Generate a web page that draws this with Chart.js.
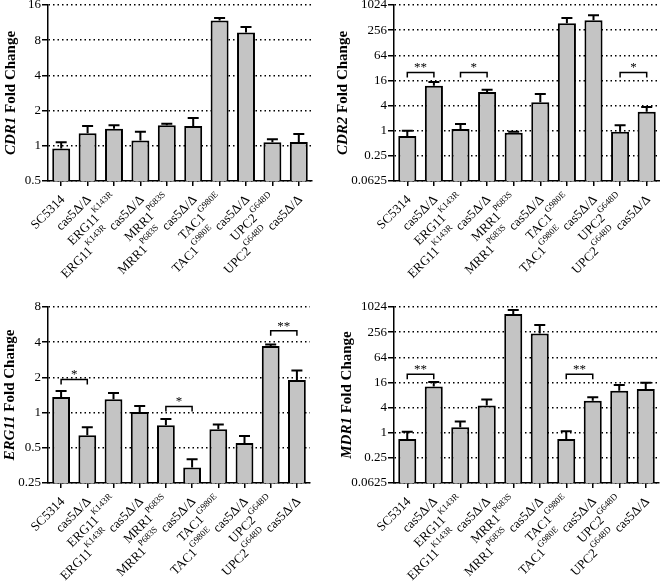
<!DOCTYPE html>
<html>
<head>
<meta charset="utf-8">
<script src="https://cdn.jsdelivr.net/npm/chart.js@4"></script>
<style>
  body { margin: 0; background: #fff; }
  #wrap { position: relative; width: 660px; height: 584px; overflow: hidden; }
  canvas { position: absolute; }
</style>
</head>
<body>
<div id="wrap">
  <canvas id="cdr1" width="330" height="302" style="left:0px;top:-10px"></canvas>
  <canvas id="cdr2" width="330" height="302" style="left:330px;top:-10px"></canvas>
  <canvas id="erg11" width="330" height="292" style="left:0px;top:292px"></canvas>
  <canvas id="mdr1" width="330" height="292" style="left:330px;top:292px"></canvas>
</div>
<script>
// ---- data ----
// '^' marks the start of a superscript (runs until the next space)
const categories = ['SC5314', 'cas5Δ/Δ', 'ERG11^K143R', 'ERG11^K143R cas5Δ/Δ', 'MRR1^P683S',
  'MRR1^P683S cas5Δ/Δ', 'TAC1^G980E', 'TAC1^G980E cas5Δ/Δ', 'UPC2^G648D', 'UPC2^G648D cas5Δ/Δ'];

const cdr1Mean = [0.95, 1.28, 1.40, 1.11, 1.50, 1.48, 11.8, 9.3, 1.07, 1.08];
const cdr1Sd = [0.12, 0.20, 0.10, 0.21, 0.04, 0.25, 0.6, 1.1, 0.07, 0.18];
const cdr1Ticks = [0.5, 1, 2, 4, 8, 16];
const cdr1TickLabels = ['0.5', '1', '2', '4', '8', '16'];

const cdr2Mean = [0.75, 11.9, 1.1, 8.4, 0.9, 4.8, 375, 442, 0.95, 2.83];
const cdr2Sd = [0.25, 2.7, 0.34, 1.2, 0.05, 2.8, 128, 140, 0.41, 0.87];
const cdr2Sig = [[0, 1, '**', 24.8], [2, 3, '*', 24.8], [8, 9, '*', 24.8]];

const erg11Mean = [1.36, 0.64, 1.30, 1.01, 0.78, 0.34, 0.72, 0.55, 3.72, 1.90];
const erg11Sd = [0.17, 0.11, 0.17, 0.13, 0.10, 0.06, 0.07, 0.08, 0.10, 0.39];
const erg11Sig = [[0, 1, '*', 1.92], [4, 5, '*', 1.13], [8, 9, '**', 5.0]];
const erg11Ticks = [0.25, 0.5, 1, 2, 4, 8];
const erg11TickLabels = ['0.25', '0.5', '1', '2', '4', '8'];

const mdr1Mean = [0.71, 12.8, 1.36, 4.47, 699, 237, 0.71, 5.86, 10.1, 11.1];
const mdr1Sd = [0.34, 3.5, 0.50, 1.8, 169, 145, 0.38, 1.18, 3.7, 4.6];
const mdr1Sig = [[0, 1, '**', 25.2], [6, 7, '**', 25.2]];

const wideTicks = [0.0625, 0.25, 1, 4, 16, 64, 256, 1024];
const wideTickLabels = ['0.0625', '0.25', '1', '4', '16', '64', '256', '1024'];

// ---- layout per panel ----
const panels = {
  cdr1:  { gene: 'CDR1',  mean: cdr1Mean,  sd: cdr1Sd,  sig: [],       ticks: cdr1Ticks,  labels: cdr1TickLabels,  yWidth: 48, padRight: 18, xHeight: 111, titleX: 11 },
  cdr2:  { gene: 'CDR2',  mean: cdr2Mean,  sd: cdr2Sd,  sig: cdr2Sig,  ticks: wideTicks,  labels: wideTickLabels,  yWidth: 64, padRight: 0,  xHeight: 111, titleX: 13 },
  erg11: { gene: 'ERG11', mean: erg11Mean, sd: erg11Sd, sig: erg11Sig, ticks: erg11Ticks, labels: erg11TickLabels, yWidth: 48, padRight: 20, xHeight: 101, titleX: 10 },
  mdr1:  { gene: 'MDR1',  mean: mdr1Mean,  sd: mdr1Sd,  sig: mdr1Sig,  ticks: wideTicks,  labels: wideTickLabels,  yWidth: 64, padRight: 1,  xHeight: 101, titleX: 17 }
};

const SERIF = '"Liberation Serif", "Times New Roman", serif';

function splitLabel(label) {
  const k = label.indexOf('^');
  if (k < 0) return [{ t: label, sup: false }];
  const rest = label.slice(k + 1);
  const sp = rest.indexOf(' ');
  const segs = [{ t: label.slice(0, k), sup: false }];
  if (sp < 0) {
    segs.push({ t: rest, sup: true });
  } else {
    segs.push({ t: rest.slice(0, sp), sup: true });
    segs.push({ t: rest.slice(sp), sup: false });
  }
  return segs;
}

// error bars, significance brackets, rotated labels and the axis title
const decor = {
  id: 'decor',
  afterDatasetsDraw(chart) {
    const p = panels[chart.canvas.id];
    const ctx = chart.ctx;
    const yScale = chart.scales.y;
    const bars = chart.getDatasetMeta(0).data;
    ctx.save();
    ctx.strokeStyle = '#000';
    ctx.lineWidth = 2;
    bars.forEach((bar, i) => {
      const yEnd = yScale.getPixelForValue(p.mean[i] + p.sd[i]);
      ctx.beginPath();
      ctx.moveTo(bar.x, bar.y);
      ctx.lineTo(bar.x, yEnd);
      ctx.moveTo(bar.x - 5.5, yEnd);
      ctx.lineTo(bar.x + 5.5, yEnd);
      ctx.stroke();
    });
    ctx.lineWidth = 1.5;
    ctx.fillStyle = '#000';
    ctx.font = '13px ' + SERIF;
    ctx.textAlign = 'center';
    ctx.textBaseline = 'alphabetic';
    p.sig.forEach(([a, b, txt, val]) => {
      const y = yScale.getPixelForValue(val);
      const x1 = bars[a].x, x2 = bars[b].x;
      ctx.beginPath();
      ctx.moveTo(x1, y + 5);
      ctx.lineTo(x1, y);
      ctx.lineTo(x2, y);
      ctx.lineTo(x2, y + 5);
      ctx.stroke();
      ctx.fillText(txt, (x1 + x2) / 2, y - 1);
    });
    ctx.restore();
  },
  afterDraw(chart) {
    const p = panels[chart.canvas.id];
    const ctx = chart.ctx;
    const xScale = chart.scales.x;
    const area = chart.chartArea;
    ctx.save();
    ctx.fillStyle = '#000';
    ctx.textBaseline = 'alphabetic';
    ctx.textAlign = 'left';
    categories.forEach((label, i) => {
      const segs = splitLabel(label);
      let total = 0;
      segs.forEach(s => {
        ctx.font = (s.sup ? '9px ' : '13px ') + SERIF;
        s.w = ctx.measureText(s.t).width;
        total += s.w;
      });
      ctx.save();
      ctx.translate(xScale.getPixelForTick(i) + 1, area.bottom + 16);
      ctx.rotate(-Math.PI / 4);
      let cur = -total;
      segs.forEach(s => {
        ctx.font = (s.sup ? '9px ' : '13px ') + SERIF;
        ctx.fillText(s.t, cur, s.sup ? -3 : 4.5);
        cur += s.w;
      });
      ctx.restore();
    });

    // y axis title: gene name in italics
    const f1 = 'italic bold 15px ' + SERIF;
    const f2 = 'bold 15px ' + SERIF;
    const rest = ' Fold Change';
    ctx.font = f1;
    const w1 = ctx.measureText(p.gene).width;
    ctx.font = f2;
    const w2 = ctx.measureText(rest).width;
    ctx.translate(p.titleX, (area.top + area.bottom) / 2);
    ctx.rotate(-Math.PI / 2);
    ctx.textBaseline = 'middle';
    ctx.font = f1;
    ctx.fillText(p.gene, -(w1 + w2) / 2, 0);
    ctx.font = f2;
    ctx.fillText(rest, -(w1 + w2) / 2 + w1, 0);
    ctx.restore();
  }
};

function makeChart(id) {
  const p = panels[id];
  new Chart(document.getElementById(id), {
    type: 'bar',
    data: {
      labels: categories,
      datasets: [{
        data: p.mean,
        backgroundColor: '#c4c4c4',
        borderColor: '#000',
        borderWidth: 2,
        barPercentage: 0.68,
        categoryPercentage: 1
      }]
    },
    options: {
      responsive: false,
      animation: false,
      events: [],
      layout: { padding: { top: 15, left: 0, right: p.padRight, bottom: 0 } },
      plugins: { legend: { display: false }, tooltip: { enabled: false } },
      scales: {
        x: {
          offset: true,
          ticks: { display: false },
          grid: { display: true, drawOnChartArea: false, drawTicks: true, tickLength: 5, offset: false,
                  color: '#000', lineWidth: 1.5, tickColor: '#000', tickWidth: 1.5 },
          border: { display: true, color: '#000', width: 1.5 },
          afterFit: s => { s.height = p.xHeight; }
        },
        y: {
          type: 'logarithmic',
          min: p.ticks[0],
          max: p.ticks[p.ticks.length - 1],
          afterBuildTicks: s => { s.ticks = p.ticks.map(v => ({ value: v })); },
          ticks: {
            autoSkip: false,
            padding: 1,
            color: '#000',
            font: { family: SERIF, size: 13 },
            callback: (v, i) => p.labels[i]
          },
          grid: { color: '#000', lineWidth: 1.5, tickLength: 6, tickColor: '#000', tickWidth: 1.5, tickBorderDash: [] },
          border: { display: true, color: '#000', width: 1.5, dash: [1.5, 3] },
          afterFit: s => { s.width = p.yWidth; }
        }
      }
    },
    plugins: [decor]
  });
}

['cdr1', 'cdr2', 'erg11', 'mdr1'].forEach(makeChart);
</script>
</body>
</html>
